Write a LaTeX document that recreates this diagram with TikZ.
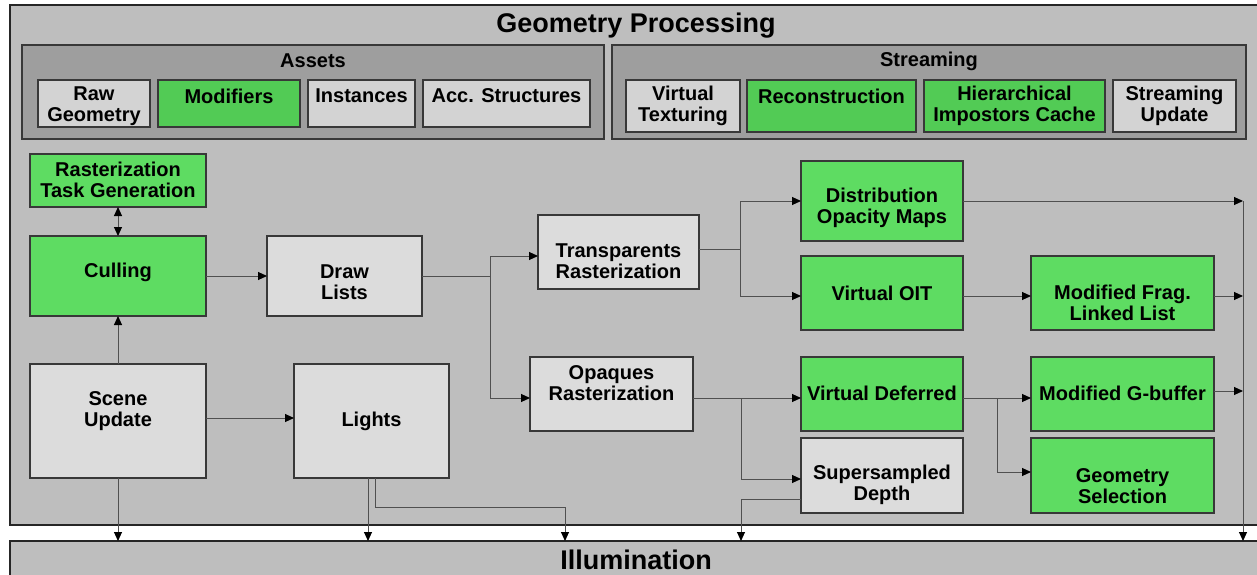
\documentclass[tikz,border=0pt]{standalone}
\usepackage{fontspec}
\setmainfont{Liberation Sans}
\usetikzlibrary{arrows.meta}

\definecolor{panelbg}{HTML}{BEBEBE}
\definecolor{groupbg}{HTML}{9E9E9E}
\definecolor{boxgray}{HTML}{DCDCDC}
\definecolor{topgray}{HTML}{D3D3D3}
\definecolor{boxgreen}{HTML}{5EDC62}
\definecolor{topgreen}{HTML}{52CB55}
\definecolor{edgecol}{HTML}{383838}
\definecolor{wirecol}{HTML}{505050}

% box: name, style, x1, y1, x2, y2, text centre y, text
\newcommand\mkbox[8]{%
  \node[#2, minimum width={(#5)-(#3)}, minimum height={(#6)-(#4)}]
    (#1) at ({((#3)+(#5))/2},{((#4)+(#6))/2}) {};
  \node[lbl] (#1-txt) at ({((#3)+(#5))/2},#7) {#8};}

\begin{document}
\begin{tikzpicture}[x=1pt,y=-1pt,
  blk/.style={draw=edgecol, line width=1.3pt, inner sep=0pt, outer sep=0pt},
  graybox/.style={blk, fill=boxgray},
  greenbox/.style={blk, fill=boxgreen},
  topgraybox/.style={blk, fill=topgray},
  topgreenbox/.style={blk, fill=topgreen},
  groupbox/.style={draw=edgecol, line width=1.8pt, fill=groupbg, inner sep=0pt, outer sep=0pt},
  panel/.style={draw=black!85, line width=2pt, fill=panelbg, inner sep=0pt, outer sep=0pt},
  lbl/.style={font=\bfseries\fontsize{20}{20.5}\selectfont, align=center, inner sep=0pt},
  bigtitle/.style={font=\bfseries\fontsize{27}{28}\selectfont, inner sep=0pt},
  wire/.style={draw=wirecol, line width=1pt},
  tip/.style={wire, -{Triangle[length=9pt,width=8pt,color=black]}},
  dtip/.style={wire, {Triangle[length=9pt,width=8pt,color=black]}-{Triangle[length=9pt,width=8pt,color=black]}}
]
\clip (0,0) rectangle (1257,575);
\fill[white] (0,0) rectangle (1257,575);

% outer panels
\node[panel, minimum width=1252, minimum height=520, anchor=north west] (geo) at (10,5) {};
\node[bigtitle] (geo-txt) at (636,26) {Geometry Processing};
\node[panel, minimum width=1252, minimum height=50, anchor=north west] (illum) at (10,541) {};
\node[bigtitle] (illum-txt) at (636,560) {Illumination};

% asset and streaming groups
\mkbox{assets}{groupbox}{22}{45}{604}{139}{61}{Assets}
\mkbox{stream}{groupbox}{612}{45}{1246}{139}{61}{Streaming}

\mkbox{raw}{topgraybox}{38}{80}{150}{127}{106}{Raw\\Geometry}
\mkbox{modif}{topgreenbox}{158}{80}{300}{127}{96}{Modifiers}
\mkbox{inst}{topgraybox}{308}{80}{415}{127}{96}{Instances}
\mkbox{accs}{topgraybox}{423}{80}{590}{127}{96}{Acc. Structures}

\mkbox{vtex}{topgraybox}{626}{80}{740}{132}{106}{Virtual\\Texturing}
\mkbox{recon}{topgreenbox}{747}{80}{916}{132}{96}{Reconstruction}
\mkbox{hic}{topgreenbox}{924}{80}{1105}{132}{106}{Hierarchical\\Impostors Cache}
\mkbox{supd}{topgraybox}{1113}{80}{1236}{132}{106}{Streaming\\Update}

% processing blocks
\mkbox{rtg}{greenbox}{30}{154}{206}{207}{180}{Rasterization\\Task Generation}
\mkbox{cull}{greenbox}{30}{236}{206}{316}{272}{Culling}
\mkbox{dlist}{graybox}{267}{236}{422}{316}{282}{Draw\\Lists}
\mkbox{scene}{graybox}{30}{364}{206}{478}{411}{Scene\\Update}
\mkbox{lights}{graybox}{294}{364}{449}{478}{421}{Lights}
\mkbox{transp}{graybox}{538}{215}{699}{289}{261}{Transparents\\Rasterization}
\mkbox{opaq}{graybox}{530}{357}{693}{431}{383}{Opaques\\Rasterization}
\mkbox{dom}{greenbox}{801}{161}{963}{241}{208}{Distribution\\Opacity Maps}
\mkbox{voit}{greenbox}{801}{256}{963}{330}{293}{Virtual OIT}
\mkbox{mfll}{greenbox}{1031}{256}{1214}{330}{303}{Modified Frag.\\Linked List}
\mkbox{vdef}{greenbox}{801}{357}{963}{431}{393}{Virtual Deferred}
\mkbox{ssd}{graybox}{801}{438}{963}{513}{485}{Supersampled\\Depth}
\mkbox{mgb}{greenbox}{1031}{357}{1214}{431}{393}{Modified G-buffer}
\mkbox{gsel}{greenbox}{1031}{438}{1214}{513}{486}{Geometry\\Selection}

% junction points
\coordinate (jdl) at (490,276);
\coordinate (jtr) at (740,249);
\coordinate (jop) at (741,398);
\coordinate (jvd) at (997,398);
\coordinate (jss) at (741,499);
\coordinate (jli) at (375,507);
\coordinate (jil) at (565,507);
\coordinate (bus) at (1243,201);

% connectors
\draw[dtip] (rtg.south) -- (cull.north);
\draw[tip] (scene.north) -- (cull.south);
\draw[tip] (cull.east) -- (dlist.west);
\draw[wire] (dlist.east) -- (jdl);
\draw[tip] (jdl) |- ([yshift=-4pt]transp.west);
\draw[tip] (jdl) |- ([yshift=-4pt]opaq.west);
\draw[wire] ([yshift=3pt]transp.east) -- (jtr);
\draw[tip] (jtr) |- (dom.west);
\draw[tip] (jtr) |- ([yshift=-3pt]voit.west);
\draw[tip] ([yshift=-3pt]voit.east) -- ([yshift=-3pt]mfll.west);
\draw[tip] (dom.east) -- (dom.east -| bus);
\draw[tip] ([yshift=-3pt]mfll.east) -- ([yshift=-3pt]mfll.east -| bus);
\draw[tip] ([yshift=3pt]mgb.east) -- ([yshift=3pt]mgb.east -| bus);
\draw[tip] (bus) -- (bus |- illum.north);

\draw[tip] ([yshift=-4pt]opaq.east) -- ([yshift=-4pt]vdef.west);
\draw[tip] (jop) |- ([yshift=-3.5pt]ssd.west);
\draw[tip] ([yshift=-4pt]vdef.east) -- ([yshift=-4pt]mgb.west);
\draw[tip] (jvd) |- ([yshift=3.5pt]gsel.west);
\draw[tip] (ssd.west |- jss) -- (jss) -- (jss |- illum.north);

\draw[tip] ([yshift=3pt]scene.east) -- ([yshift=3pt]lights.west);
\draw[tip] (scene.south) -- (scene.south |- illum.north);
\draw[tip] ([xshift=-3.5pt]lights.south) -- ([xshift=-3.5pt]lights.south |- illum.north);
\draw[tip] (lights.south -| jli) -- (jli) -- (jil) -- (jil |- illum.north);
\end{tikzpicture}
\end{document}
